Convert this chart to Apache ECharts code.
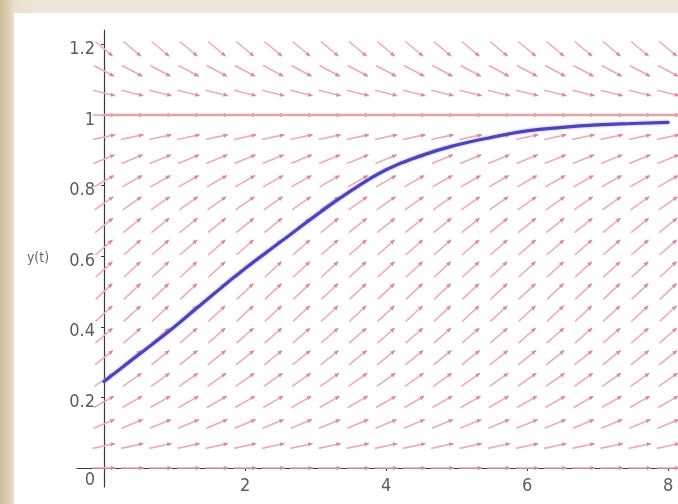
<!DOCTYPE html>
<html>
<head>
<meta charset="utf-8">
<script src="https://cdn.jsdelivr.net/npm/echarts@6/dist/echarts.min.js"></script>
<style>
  html, body { margin: 0; padding: 0; }
  #frame {
    position: relative; width: 678px; height: 504px; overflow: hidden;
    background: linear-gradient(90deg, #cdbd98 0px, #d9cbad 7px, #e9e1cf 14px, #eee8da 40px);
  }
  #panel { position: absolute; left: 14px; top: 13px; right: 0; bottom: 0; background: #ffffff; }
  #chart { position: absolute; left: 0; top: 0; width: 678px; height: 504px; }
</style>
</head>
<body>
<div id="frame"><div id="panel"></div><div id="chart"></div></div>
<script>
// Direction field grid: arrow columns (t) and rows (y), with the slope dy/dt of each row
const fieldT = [0, 0.4, 0.8, 1.2, 1.6, 2, 2.4, 2.8, 3.2, 3.6, 4, 4.4, 4.8, 5.2, 5.6, 6, 6.4, 6.8, 7.2, 7.6, 8];
const fieldY = [0, 0.0625, 0.125, 0.1875, 0.25, 0.3125, 0.375, 0.4375, 0.5, 0.5625, 0.625,
                0.6875, 0.75, 0.8125, 0.875, 0.9375, 1, 1.0625, 1.125, 1.1875];
const fieldSlope = [0, 0.044, 0.082, 0.114, 0.141, 0.161, 0.176, 0.185, 0.188, 0.185, 0.176,
                    0.161, 0.141, 0.114, 0.082, 0.044, 0, -0.050, -0.106, -0.167];

// Solution curve y(t) starting at y(0) = 0.25
const solT = [0, 0.5, 1, 1.5, 2, 2.5, 3, 3.5, 4, 4.5, 5, 5.5, 6, 6.5, 7, 7.5, 8];
const solY = [0.245, 0.322, 0.400, 0.484, 0.565, 0.640, 0.715, 0.785, 0.845, 0.885, 0.915,
              0.937, 0.955, 0.965, 0.972, 0.976, 0.979];

// Equilibrium solution
const equilibriumY = 1;

// Axis tick labels
const xTicks = [2, 4, 6, 8];
const yTicks = [0, 0.2, 0.4, 0.6, 0.8, 1, 1.2];

const xMin = -0.383, xMax = 8.14;
const yMin = -0.054, yMax = 1.241;

const fieldData = [];
fieldY.forEach((y, i) => {
  fieldT.forEach(t => fieldData.push([t, y, fieldSlope[i]]));
});

const solData = solT.map((t, i) => [t, solY[i]]);
const eqData = [[0, equilibriumY], [xMax, equilibriumY]];

function renderArrow(params, api) {
  const t = api.value(0), y = api.value(1), s = api.value(2);
  const c = api.coord([t, y]);
  const c2 = api.coord([t + 1, y + s]);
  let dx = c2[0] - c[0], dy = c2[1] - c[1];
  const n = Math.hypot(dx, dy);
  dx /= n; dy /= n;
  const half = 11.5;
  const x0 = c[0] - dx * half, y0 = c[1] - dy * half;
  const x1 = c[0] + dx * half, y1 = c[1] + dy * half;
  const hl = 4.5, hw = 2.2;
  const bx = x1 - dx * hl, by = y1 - dy * hl;
  const nx = -dy, ny = dx;
  return {
    type: 'group',
    children: [
      { type: 'line', shape: { x1: x0, y1: y0, x2: x1, y2: y1 },
        style: { stroke: '#f1a9b7', lineWidth: 1.6 } },
      { type: 'polygon',
        shape: { points: [[x1, y1], [bx + nx * hw, by + ny * hw], [bx - nx * hw, by - ny * hw]] },
        style: { fill: '#d98a9c' } }
    ]
  };
}

const labelFont = "'DejaVu Sans Condensed', 'Liberation Sans', sans-serif";
const labelColor = '#5c5c5c';

const chart = echarts.init(document.getElementById('chart'), null, { renderer: 'canvas' });
chart.setOption({
  backgroundColor: 'transparent',
  animation: false,
  grid: { left: 77, right: 0, top: 30, bottom: 17, containLabel: false, outerBoundsMode: 'none' },
  xAxis: {
    type: 'value', min: xMin, max: xMax,
    splitLine: { show: false },
    axisLine: { onZero: true, lineStyle: { color: '#3a3a3a', width: 1.2 } },
    axisTick: { show: true, length: 3, customValues: xTicks, lineStyle: { color: '#3a3a3a' } },
    axisLabel: {
      customValues: xTicks, margin: -10, color: labelColor, fontSize: 18, fontFamily: labelFont
    }
  },
  yAxis: {
    type: 'value', min: yMin, max: yMax,
    name: 'y(t)', nameLocation: 'middle', nameRotate: 0, nameGap: 39,
    nameTextStyle: { color: '#666', fontSize: 14, fontFamily: labelFont, align: 'center', verticalAlign: 'middle' },
    splitLine: { show: false },
    axisLine: { onZero: true, lineStyle: { color: '#3a3a3a', width: 1.2 } },
    axisTick: { show: true, length: 3, customValues: yTicks, lineStyle: { color: '#3a3a3a' } },
    axisLabel: {
      customValues: yTicks, margin: -18, color: labelColor, fontSize: 18, fontFamily: labelFont,
      formatter: v => (v === 0 ? '{z|0}' : '{a|' + v + '}'),
      rich: {
        a: { padding: [10, 0, 0, 0], color: labelColor, fontSize: 18, fontFamily: labelFont },
        z: { padding: [24, 0, 0, 0], color: labelColor, fontSize: 18, fontFamily: labelFont }
      }
    }
  },
  series: [
    {
      type: 'custom', name: 'field', data: fieldData, clip: false, silent: true,
      encode: { x: 0, y: 1 },
      renderItem: renderArrow, z: 1
    },
    {
      type: 'line', name: 'equilibrium', data: eqData, symbol: 'none', silent: true,
      lineStyle: { color: '#e6a3a6', width: 2.5 }, z: 2
    },
    {
      type: 'line', name: 'solution', data: solData, smooth: true, symbol: 'none', silent: true,
      lineStyle: { color: '#4d44bd', width: 3.2, cap: 'round',
                   shadowColor: 'rgba(160,140,235,0.7)', shadowBlur: 3 },
      z: 3
    }
  ]
});
</script>
</body>
</html>
